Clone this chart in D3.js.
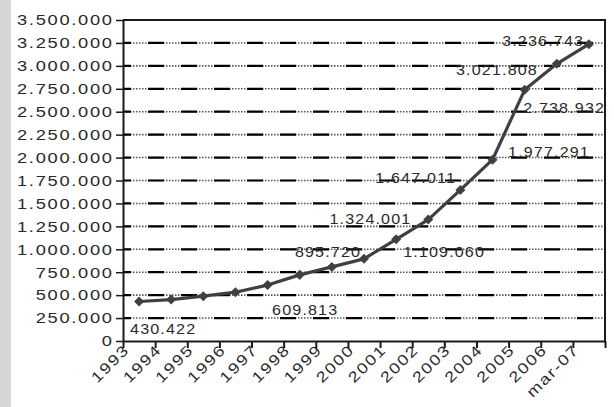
<!DOCTYPE html>
<html>
<head>
<meta charset="utf-8">
<script src="https://cdn.jsdelivr.net/npm/d3@7"></script>
<style>
  html, body { margin: 0; padding: 0; background: #fff; }
  svg { display: block; }
  text { font-family: "Liberation Sans", Arial, sans-serif; fill: #2a2a2a; }
</style>
</head>
<body>
<svg id="chart" width="614" height="407"></svg>
<script>
// Yearly totals, 1993 to March 2007
const categories = ["1993", "1994", "1995", "1996", "1997", "1998", "1999", "2000",
                    "2001", "2002", "2003", "2004", "2005", "2006", "mar-07"];
const values = [430422, 452000, 489000, 532000, 609813, 721000, 808000, 895720,
                1109060, 1324001, 1647011, 1977291, 2738932, 3021808, 3236743];
// Points that carry a value label
const labelledIdx = [0, 4, 7, 8, 9, 10, 11, 12, 13, 14];
// Value axis ticks
const yTickValues = [0, 250000, 500000, 750000, 1000000, 1250000, 1500000, 1750000,
                     2000000, 2250000, 2500000, 2750000, 3000000, 3250000, 3500000];

const W = 614, H = 407;
const plotL = 123, plotR = 605, plotT = 20, plotB = 341;
const LS = 1.4;   // extra letter spacing of the wide label face

const svg = d3.select("#chart");

// light grey strip on the left edge
svg.append("rect").attr("x", 0).attr("y", 0).attr("width", 11).attr("height", H)
  .attr("fill", "#d6d6d6");

const fmt = d3.formatLocale({ decimal: ",", thousands: ".", grouping: [3], currency: ["", ""] }).format(",d");

const y = d3.scaleLinear().domain([0, 3500000]).range([plotB, plotT]);
const x = d3.scaleBand().domain(categories).range([plotL, plotR]).padding(0);
const xEdge = d3.scaleLinear().domain([0, categories.length]).range([plotL, plotR]);
const cx = c => x(c) + x.bandwidth() / 2;

// horizontal gridlines: a dotted run under long solid dashes
const gridVals = yTickValues.filter(v => v > 0 && v < 3500000);
const grid = svg.append("g");
grid.selectAll("line.dots")
  .data(gridVals)
  .join("line")
  .attr("class", "dots")
  .attr("x1", plotL + 1).attr("x2", plotR)
  .attr("y1", d => y(d)).attr("y2", d => y(d))
  .attr("stroke", "#555")
  .attr("stroke-width", 1.6)
  .attr("stroke-dasharray", "1.5,1.5");
grid.selectAll("line.dash")
  .data(gridVals)
  .join("line")
  .attr("class", "dash")
  .attr("x1", plotL + 1).attr("x2", plotR)
  .attr("y1", d => y(d)).attr("y2", d => y(d))
  .attr("stroke", "#000")
  .attr("stroke-width", 2.2)
  .attr("stroke-dasharray", "16,17")
  .attr("stroke-dashoffset", 9);

// plot frame: top and right edges
svg.append("path")
  .attr("d", `M${plotL},${plotT}H${plotR}V${plotB}`)
  .attr("fill", "none").attr("stroke", "#1a1a1a").attr("stroke-width", 2);

// value axis
const yAxis = svg.append("g")
  .attr("transform", `translate(${plotL},0)`)
  .call(d3.axisLeft(y).tickValues(yTickValues).tickFormat(fmt).tickSizeInner(7).tickSizeOuter(0).tickPadding(4));
yAxis.select(".domain").attr("stroke", "#1a1a1a").attr("stroke-width", 2);
yAxis.selectAll(".tick line").attr("stroke", "#1a1a1a").attr("stroke-width", 1.5);
yAxis.selectAll(".tick text")
  .attr("x", LS)
  .attr("transform", "translate(-11,0) scale(1.22,1)")
  .style("font-size", "15px")
  .style("letter-spacing", LS + "px")
  .style("font-family", "'Liberation Sans', Arial, sans-serif")
  .attr("fill", "#2a2a2a");

// category axis: tick marks on the category boundaries
const xAxis = svg.append("g")
  .attr("transform", `translate(0,${plotB})`)
  .call(d3.axisBottom(xEdge).tickValues(d3.range(categories.length + 1)).tickFormat("").tickSizeInner(7).tickSizeOuter(0));
xAxis.select(".domain").attr("stroke", "#1a1a1a").attr("stroke-width", 2);
xAxis.selectAll(".tick line").attr("stroke", "#1a1a1a").attr("stroke-width", 2);

// rotated category labels
svg.append("g")
  .selectAll("text")
  .data(categories)
  .join("text")
  .attr("transform", d => `translate(${cx(d) - 10},${plotB + 11}) rotate(-45) scale(1.2,1)`)
  .attr("x", LS)
  .attr("text-anchor", "end")
  .style("font-size", "15px")
  .style("letter-spacing", LS + "px")
  .text(d => d);

// series line
const pts = categories.map((c, i) => ({ c, v: values[i], i }));
svg.append("path")
  .datum(pts)
  .attr("fill", "none")
  .attr("stroke", "#404040")
  .attr("stroke-width", 3.2)
  .attr("stroke-linejoin", "round")
  .attr("d", d3.line().x(d => cx(d.c)).y(d => y(d.v)));

// diamond markers
svg.append("g")
  .selectAll("path")
  .data(pts)
  .join("path")
  .attr("transform", d => `translate(${cx(d.c)},${y(d.v)})`)
  .attr("d", d3.symbol(d3.symbolDiamond2, 64))
  .attr("fill", "#404040");

// value labels, each nudged away from its point
const nudge = {
  0: [-9, 32.5, "start"],
  4: [4.5, 30, "start"],
  7: [-4, -2, "end"],
  8: [7, 18, "start"],
  9: [-18, 4.5, "end"],
  10: [-5.5, -7, "end"],
  11: [15.5, -2.5, "start"],
  12: [-1.5, 23, "start"],
  13: [-20, 11, "end"],
  14: [-6, 2, "end"]
};
svg.append("g")
  .selectAll("text")
  .data(labelledIdx.map(i => pts[i]))
  .join("text")
  .attr("transform", d => `translate(${cx(d.c) + nudge[d.i][0]},${y(d.v) + nudge[d.i][1]}) scale(1.15,1)`)
  .attr("x", d => nudge[d.i][2] === "end" ? 1 : 0)
  .attr("text-anchor", d => nudge[d.i][2])
  .style("font-size", "14px")
  .style("letter-spacing", "1px")
  .text(d => fmt(d.v));
</script>
</body>
</html>
